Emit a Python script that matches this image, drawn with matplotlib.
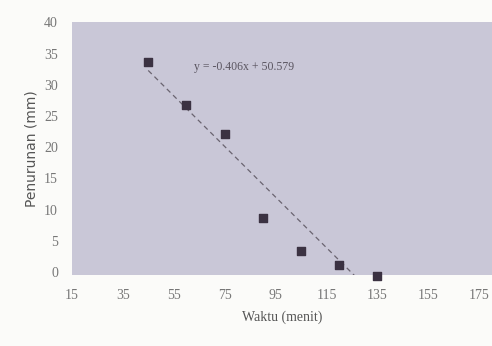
import numpy as np
import matplotlib.pyplot as plt

waktu = [45, 60, 75, 90, 105, 120, 135]
penurunan = [33.7, 26.8, 22.1, 8.7, 3.4, 1.1, -0.6]
slope = -0.406
intercept = 50.579
x_ticks = [15, 35, 55, 75, 95, 115, 135, 155, 175]
y_ticks = [0, 5, 10, 15, 20, 25, 30, 35, 40]

fig = plt.figure(figsize=(4.92, 3.46), dpi=100)
fig.patch.set_facecolor('#fbfbf9')
ax = fig.add_axes([0.146, 0.205, 0.854, 0.73])
ax.set_facecolor('#c9c7d7')

xt = np.array([waktu[0], waktu[-1]])
ax.plot(xt, slope * xt + intercept, color='#6a6470', lw=0.9, ls=(0, (4, 3)))
ax.scatter(waktu, penurunan, s=32, marker='s', color='#3b3242', zorder=3, clip_on=False)

ax.set_xlim(15, 180)
ax.set_ylim(-0.5, 40)
ax.set_xticks(x_ticks)
ax.set_yticks(y_ticks)
for s in ax.spines.values():
    s.set_visible(False)
ax.tick_params(length=0, pad=10, labelsize=10, colors='#777777')
for lab in ax.get_xticklabels() + ax.get_yticklabels():
    lab.set_family('Liberation Serif')

ax.text(63, 32.8, 'y = -0.406x + 50.579', fontsize=8.5, family='Liberation Serif',
        color='#5a5560', va='center')
ax.set_xlabel('Waktu (menit)', family='Liberation Serif', fontsize=10, color='#555555', labelpad=6)
ax.set_ylabel('Penurunan (mm)', fontsize=10, color='#555555', labelpad=4)

plt.savefig('out.png', dpi=100)
